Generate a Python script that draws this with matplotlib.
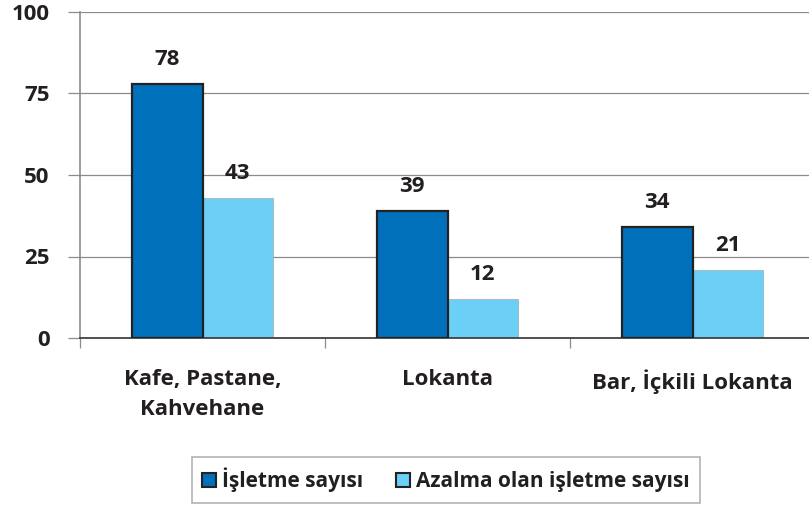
import numpy as np
import matplotlib.pyplot as plt
from matplotlib.patches import Patch

categories = ["Kafe, Pastane,\nKahvehane", "Lokanta", "Bar, İçkili Lokanta"]
isletme = [78, 39, 34]
azalma = [43, 12, 21]
series_names = ["İşletme sayısı", "Azalma olan işletme sayısı"]

plt.rcParams['font.family'] = ['Open Sans', 'DejaVu Sans']
plt.rcParams['font.weight'] = 'bold'

dark = '#0070BA'
light = '#6CCFF6'
txt = '#231F20'

fig = plt.figure(figsize=(8.09, 5.07), dpi=100)
# axes reaches a bit past the right edge, like the original
ax = fig.add_axes([80 / 809, 1 - 338 / 507, 735 / 809, 326 / 507])

x = np.arange(len(categories))
w = 0.288
b1 = ax.bar(x - w / 2, isletme, w, color=dark, edgecolor='#222222', linewidth=1.6, zorder=3)
b2 = ax.bar(x + w / 2, azalma, w, color=light, edgecolor='#999999', linewidth=0.4, zorder=2)

for bars, vals in ((b1, isletme), (b2, azalma)):
    for r, v in zip(bars, vals):
        ax.annotate(str(v), (r.get_x() + r.get_width() / 2, v), xytext=(0, 10),
                    textcoords='offset points', ha='center', va='bottom',
                    fontsize=16, fontweight='bold', color=txt)

ax.set_xlim(-0.5, 2.5)
ax.set_ylim(0, 100)
ax.set_yticks([0, 25, 50, 75, 100])
ax.yaxis.grid(True, color='#8c8c8c', linewidth=0.9, zorder=0)
ax.set_axisbelow(True)
ax.tick_params(axis='y', length=9, width=0.9, color='#8c8c8c', labelsize=16,
               labelcolor=txt, pad=13)
for lab in ax.get_yticklabels():
    lab.set_fontweight('bold')

# category boundary ticks below the axis
ax.set_xticks([-0.5, 0.5, 1.5])
ax.set_xticklabels([])
ax.tick_params(axis='x', length=7, width=0.9, color='#8c8c8c', direction='out')
for i, c in enumerate(categories):
    ax.text(i, -9.5, c, ha='center', va='top', fontsize=16, fontweight='bold',
            color=txt, linespacing=1.55, transform=ax.transData, clip_on=False)

for s in ('top', 'right'):
    ax.spines[s].set_visible(False)
ax.spines['left'].set_color('#8c8c8c')
ax.spines['left'].set_linewidth(1.2)
ax.spines['bottom'].set_color('#333333')
ax.spines['bottom'].set_linewidth(1.2)

handles = [Patch(facecolor=dark, edgecolor='#222222', linewidth=1.5),
           Patch(facecolor=light, edgecolor='#222222', linewidth=1.5)]
leg = fig.legend(handles, series_names, loc='center', bbox_to_anchor=(446 / 809, 1 - 480 / 507),
                 ncol=2, frameon=True, fancybox=False, edgecolor='#a0a0a0',
                 prop={'size': 15, 'weight': 'bold'}, handlelength=0.65, handleheight=0.65,
                 handletextpad=0.3, columnspacing=1.6, borderpad=0.5)
leg.get_frame().set_linewidth(1.2)
for t in leg.get_texts():
    t.set_color(txt)

fig.savefig('out.png', dpi=100)
